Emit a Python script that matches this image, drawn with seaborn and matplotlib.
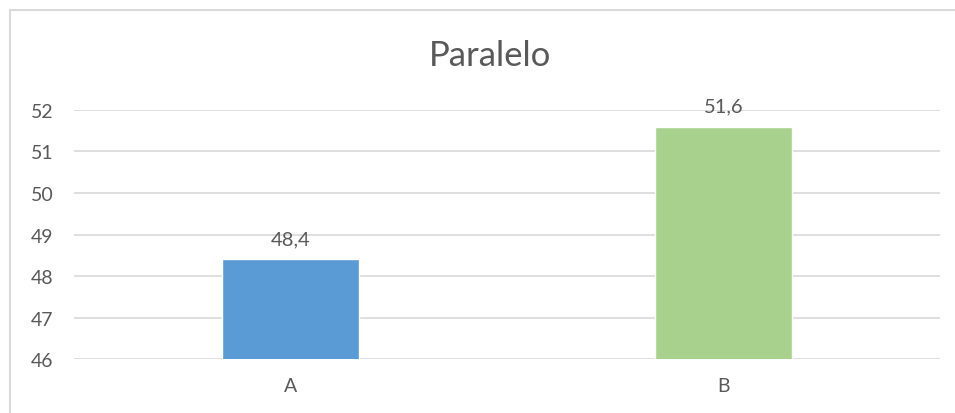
import pandas as pd
import seaborn as sns
import matplotlib.pyplot as plt
from matplotlib.patches import Rectangle

# Dados do gráfico
categorias = ['A', 'B']
valores = [48.4, 51.6]
cores = ['#5B9BD5', '#A9D18E']
titulo = 'Paralelo'

dados = pd.DataFrame({'categoria': categorias, 'valor': valores})

sns.set_style("white")
plt.rcParams['font.family'] = ['Lato', 'DejaVu Sans']

cor_texto = '#595959'
cor_grade = '#D9D9D9'

fig = plt.figure(figsize=(9.55, 4.14), dpi=100)
ax = fig.add_axes([0.0775, 0.1304, 0.9068, 0.6015])

sns.barplot(data=dados, x='categoria', y='valor', hue='categoria',
            palette=cores, saturation=1, width=0.316, legend=False, ax=ax,
            bottom=0, zorder=3)

ax.set_ylim(46, 52)
ax.set_xlim(-0.5, 1.5)
ax.set_yticks(range(46, 53))
ax.yaxis.grid(True, color=cor_grade, linewidth=1.2, zorder=0)
ax.set_axisbelow(True)
for lado in ['top', 'right', 'left', 'bottom']:
    ax.spines[lado].set_visible(False)

ax.tick_params(axis='y', length=0, pad=15, labelsize=14, labelcolor=cor_texto)
ax.tick_params(axis='x', length=0, pad=13, labelsize=14, labelcolor=cor_texto)
ax.set_xlabel('')
ax.set_ylabel('')

# Rótulos de dados com vírgula decimal
for i, v in enumerate(valores):
    ax.annotate(f'{v:.1f}'.replace('.', ','), (i, v), xytext=(0, 9),
                textcoords='offset points', ha='center', va='bottom',
                fontsize=14.5, color=cor_texto)

fig.text(0.513, 0.865, titulo, ha='center', va='center', fontsize=25, color=cor_texto)

# Moldura do gráfico
fig.patches.append(Rectangle((9.5 / 955, -0.1), 1.2, 1.1 - 11.5 / 414,
                             transform=fig.transFigure, fill=False,
                             edgecolor=cor_grade, linewidth=1.5))

fig.savefig('out.png', dpi=100)
